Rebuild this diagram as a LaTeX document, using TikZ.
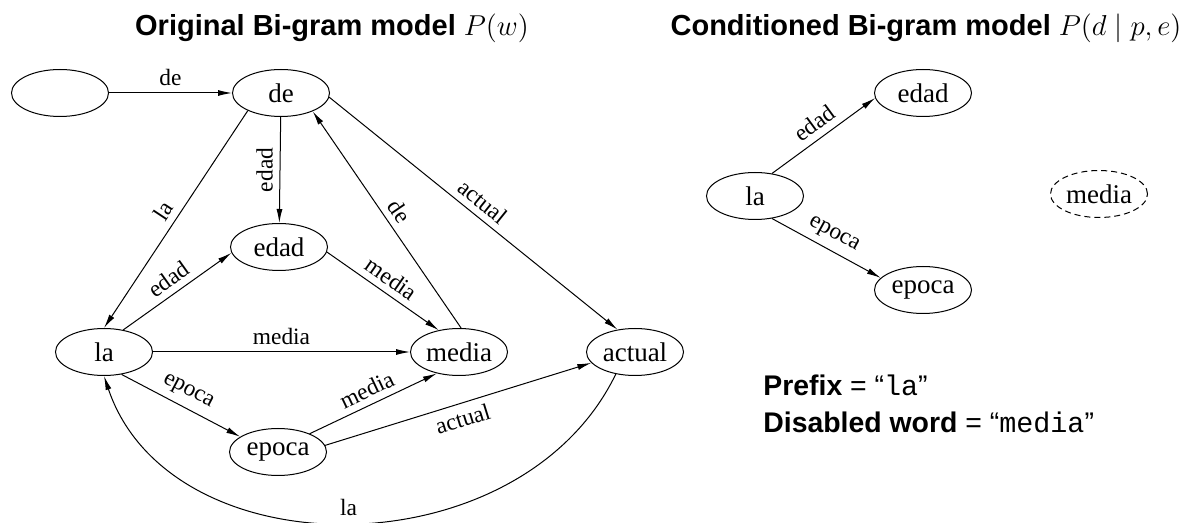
\documentclass[tikz,border=0pt]{standalone}
\usepackage{fontspec}
\setmainfont{Liberation Serif}
\setsansfont{Liberation Sans}
\setmonofont{Liberation Mono}
\usetikzlibrary{shapes.geometric, arrows.meta, positioning}
\tikzstyle{word} = [ellipse, draw=black, line width=0.5pt, inner sep=0pt, minimum width=48.5pt, minimum height=23.5pt, font=\fontsize{13.5}{16}\selectfont]
\tikzstyle{link} = [->, >={Latex[length=7pt,width=3pt]}, line width=0.5pt, font=\fontsize{11.7}{14}\selectfont]
\tikzstyle{title} = [font=\fontsize{14.5}{17}\selectfont\sffamily\bfseries]
\tikzstyle{note} = [anchor=west, inner sep=0pt, font=\fontsize{14.2}{17}\selectfont\sffamily]

\begin{document}
\begin{tikzpicture}[x=0.5pt, y=-0.5pt, text centered]
        \useasboundingbox (0,0) rectangle (1194,523);
        \node (T1) [title] at (332,28) {Original Bi-gram model $P(w)$};
        \node (T2) [title] at (926,28) {Conditioned Bi-gram model $P(d\mid p,e)$};

        % original model
        \node (S) [word] at (60,93) {};
        \node (De) [word] at (281,93) {de};
        \node (Ed) [word] at (279,247) {edad};
        \node (La) [word] at (104,352) {la};
        \node (Me) [word] at (459,352) {media};
        \node (Ac) [word] at (635,352) {actual};
        \node (Ep) [word] at (278,452) {epoca};

        \path[link] (S) edge node[above] {de} (De);
        \path[link] (De) edge node[rotate=90, anchor=south] {edad} (Ed);
        \path[link] (De.208) edge node[sloped, above] {la} (La.north);
        \path[link] (La.49) edge node[sloped, above] {edad} (Ed.187);
        \path[link] (Ed.354) edge node[sloped, above] {media} (Me.133);
        \path[link] (Me.85) edge node[sloped, above] {de} (De.330);
        \path[link] (De.355) edge node[sloped, above] {actual} (Ac.128);
        \path[link] (La) edge node[above] {media} (Me);
        \path[link] (La.308) edge node[sloped, above] {epoca} (Ep.158);
        \path[link] (Ep.30) edge node[sloped, above] {media} (Me.224);
        \path[link] (Ep.8) edge node[sloped, below] {actual} (Ac.194);
        \draw[link] (Ac.229) .. controls +(-96,198) and +(66,196) .. node[above] {la} (La.south);

        % conditioned model
        \node (L2) [word] at (755,196) {la};
        \node (E2) [word] at (923,93) {edad};
        \node (P2) [word] at (923,290) {epoca};
        \node (M2) [word, dashed, dash pattern=on 3pt off 2pt] at (1099,194) {media};

        \path[link] (L2.53) edge node[sloped, above] {edad} (E2.186);
        \path[link] (L2.307) edge node[sloped, above] {epoca} (P2.164);

        \node (N1) [note] at (763,385) {\textbf{Prefix} = “\texttt{la}”};
        \node (N2) [note] at (763,422) {\textbf{Disabled word} = “\texttt{media}”};
\end{tikzpicture}
\end{document}
